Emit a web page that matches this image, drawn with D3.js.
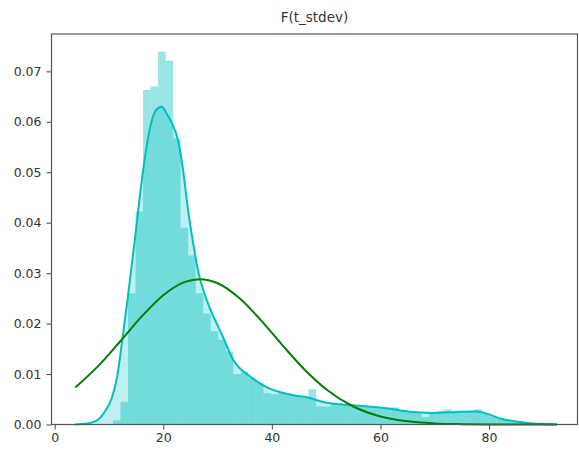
<!DOCTYPE html>
<html>
<head>
<meta charset="utf-8">
<script src="https://cdn.jsdelivr.net/npm/d3@7"></script>
<style>
  html, body { margin: 0; padding: 0; background: #fff; }
  svg { display: block; }
  text { font-family: "DejaVu Sans", sans-serif; }
</style>
</head>
<body>
<svg id="chart" width="579" height="455"></svg>
<script>
// ---- data ----
const title = "F(t_stdev)";
const binStart = 3.8;
const binWidth = 1.386;
const histDensity = [
  0, 0, 0, 0, 0, 0.0008, 0.0045, 0.026, 0.0422, 0.0663,
  0.067, 0.0739, 0.0721, 0.0567, 0.039, 0.0335, 0.026, 0.022, 0.0185, 0.0168,
  0.0145, 0.0100, 0.0105, 0.0093, 0.0083, 0.0062, 0.0060, 0.0064, 0.0060, 0.0057,
  0.0056, 0.0070, 0.0036, 0.0036, 0.0043, 0.0041, 0.0040, 0.0038, 0.0037, 0.0035,
  0.0034, 0.0032, 0.0034, 0.0028, 0.0025, 0.0024, 0.0015, 0.0023, 0.0027, 0.0030,
  0.0025, 0.0026, 0.0027, 0.0030, 0.0021, 0.0016, 0.0012, 0.0008, 0.0005, 0.0003,
  0.0002, 0.0001, 0.0001, 0.0001
];
const kdeX = [3.7, 6, 8, 9.5, 10.5, 11.5, 12.6, 13.5, 14.8, 16.3, 17.5, 18.6, 19.7, 20.7, 21.7, 22.7, 23.7, 24.5, 25.5, 26.5, 27.5, 28.8, 30.8, 32.9, 36, 39, 43.9, 46.4, 50.1, 55, 61, 66, 70, 74, 77.7, 80, 82, 85.7, 88, 92.5];
const kdeY = [0.0000, 0.0002, 0.0010, 0.0030, 0.0052, 0.0095, 0.0180, 0.0255, 0.0370, 0.0505, 0.0585, 0.0622, 0.0630, 0.0615, 0.0595, 0.0564, 0.0500, 0.0430, 0.0360, 0.0300, 0.0262, 0.0225, 0.0178, 0.0128, 0.0095, 0.0074, 0.0058, 0.0054, 0.0043, 0.0038, 0.0032, 0.0025, 0.0023, 0.0025, 0.0026, 0.0020, 0.0012, 0.0005, 0.0002, 0.0000];
const fitX = [3.8, 8, 12, 16, 20, 24, 26.7, 30, 34, 38, 42, 46, 50, 55, 60, 65, 70, 75, 80, 85, 92.5];
const fitY = [0.00735, 0.01158, 0.0164, 0.02137, 0.02562, 0.02826, 0.0288, 0.0280, 0.02507, 0.02065, 0.01565, 0.01091, 0.0070, 0.00357, 0.0016, 0.00063, 0.00022, 0.00007, 0.00002, 0.000005, 0.0];
const xTicks = [0, 20, 40, 60, 80];
const yTicks = [0.00, 0.01, 0.02, 0.03, 0.04, 0.05, 0.06, 0.07];

// ---- layout ----
const plot = { left: 51.5, right: 577.5, top: 34, bottom: 424.5 };
const mainColor = "#00bfbf";
const fitColor = "#008000";

const svg = d3.select("#chart");
const x = d3.scaleLinear().domain([-0.59, 96.3]).range([plot.left, plot.right]);
const y = d3.scaleLinear().domain([0, 0.0774]).range([plot.bottom, plot.top]);

const kdePts = kdeX.map((v, i) => [v, kdeY[i]]);
const fitPts = fitX.map((v, i) => [v, fitY[i]]);

// KDE shade
svg.append("path")
  .datum(kdePts)
  .attr("fill", mainColor)
  .attr("fill-opacity", 0.25)
  .attr("d", d3.area().curve(d3.curveMonotoneX)
    .x(d => x(d[0])).y0(y(0)).y1(d => y(d[1])));

// histogram bars
svg.append("g").selectAll("rect")
  .data(histDensity)
  .join("rect")
  .attr("x", (d, i) => x(binStart + i * binWidth))
  .attr("width", (d, i) => x(binStart + (i + 1) * binWidth) - x(binStart + i * binWidth))
  .attr("y", d => y(d))
  .attr("height", d => y(0) - y(d))
  .attr("fill", mainColor)
  .attr("fill-opacity", 0.4);

// KDE line
svg.append("path")
  .datum(kdePts)
  .attr("fill", "none")
  .attr("stroke", mainColor)
  .attr("stroke-width", 2)
  .attr("d", d3.line().curve(d3.curveMonotoneX).x(d => x(d[0])).y(d => y(d[1])));

// normal fit line
svg.append("path")
  .datum(fitPts)
  .attr("fill", "none")
  .attr("stroke", fitColor)
  .attr("stroke-width", 2)
  .attr("d", d3.line().curve(d3.curveMonotoneX).x(d => x(d[0])).y(d => y(d[1])));

// frame
svg.append("rect")
  .attr("x", plot.left).attr("y", plot.top)
  .attr("width", plot.right - plot.left).attr("height", plot.bottom - plot.top)
  .attr("fill", "none").attr("stroke", "#555").attr("stroke-width", 1.2);

// axes
const xAxis = svg.append("g")
  .attr("transform", `translate(0,${plot.bottom})`)
  .call(d3.axisBottom(x).tickValues(xTicks).tickFormat(d3.format("d")).tickSize(5).tickPadding(4));
const yAxis = svg.append("g")
  .attr("transform", `translate(${plot.left},0)`)
  .call(d3.axisLeft(y).tickValues(yTicks).tickFormat(d3.format(".2f")).tickSize(5).tickPadding(5));
[xAxis, yAxis].forEach(g => {
  g.select(".domain").remove();
  g.selectAll("line").attr("stroke", "#555").attr("stroke-width", 1.1);
  g.selectAll("text").attr("fill", "#333").style("font-size", "12.5px")
    .style("font-family", "'DejaVu Sans', sans-serif");
});

// title
svg.append("text")
  .attr("x", (plot.left + plot.right) / 2)
  .attr("y", 22)
  .attr("text-anchor", "middle")
  .attr("fill", "#333")
  .style("font-size", "13.5px")
  .text(title);
</script>
</body>
</html>
